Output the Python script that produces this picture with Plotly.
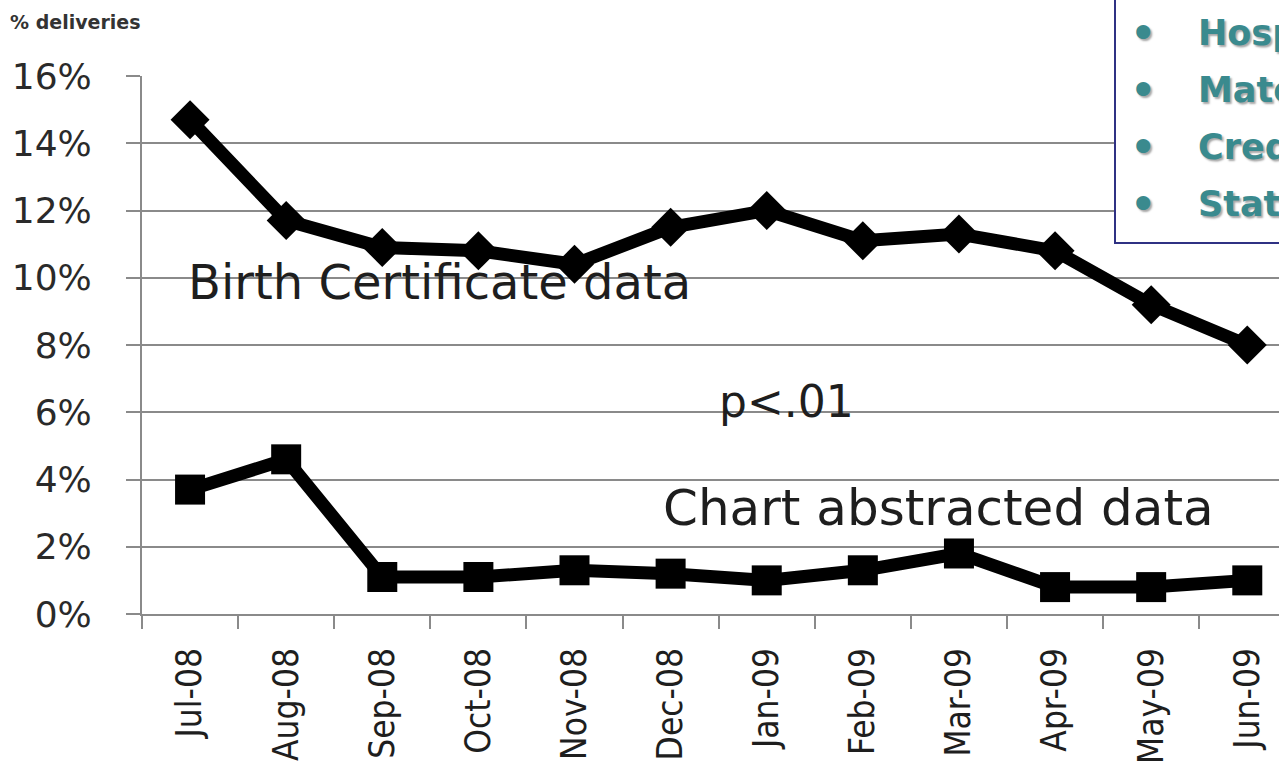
import plotly.graph_objects as go

# Monthly share of deliveries, two data sources
months = ["Jul-08", "Aug-08", "Sep-08", "Oct-08", "Nov-08", "Dec-08",
          "Jan-09", "Feb-09", "Mar-09", "Apr-09", "May-09", "Jun-09"]
birth_certificate = [14.7, 11.7, 10.9, 10.8, 10.4, 11.5,
                     12.0, 11.1, 11.3, 10.8, 9.2, 8.0]
chart_abstracted = [3.7, 4.6, 1.1, 1.1, 1.3, 1.2,
                    1.0, 1.3, 1.8, 0.8, 0.8, 1.0]
y_ticks = [0, 2, 4, 6, 8, 10, 12, 14, 16]
box_items = ["Hospitals", "Maternal", "Credentialing", "State"]

W, H = 1279, 768
L, R, T, B = 142, 0, 76, 154
plot_w, plot_h = W - L - R, H - T - B


def px_x(px):
    return (px - L) / plot_w


def px_y(py):
    return (H - B - py) / plot_h


GRID = "#8a8a8a"
TXT = "#1e1e1e"
TEAL = "#3a8a8e"

fig = go.Figure()
fig.add_trace(go.Scatter(
    x=months, y=birth_certificate, mode="lines+markers",
    line=dict(color="black", width=13),
    marker=dict(symbol="diamond", size=30, color="black"),
    cliponaxis=False, showlegend=False,
))
fig.add_trace(go.Scatter(
    x=months, y=chart_abstracted, mode="lines+markers",
    line=dict(color="black", width=13),
    marker=dict(symbol="square", size=30, color="black"),
    cliponaxis=False, showlegend=False,
))

fig.update_xaxes(
    type="category", range=[-0.5, 11.33], automargin=False,
    showgrid=False, showline=True, linecolor=GRID, linewidth=2,
    ticks="outside", tickson="boundaries", ticklen=13, tickwidth=2,
    tickcolor=GRID, tickangle=-90, ticklabelstandoff=18,
    tickfont=dict(family="DejaVu Sans Condensed, DejaVu Sans", size=35, color=TXT),
)
fig.update_yaxes(
    range=[0, 16], tickvals=y_ticks, ticktext=[f"{v}%" for v in y_ticks],
    automargin=False,
    showgrid=True, gridcolor=GRID, gridwidth=2, zeroline=False,
    showline=True, linecolor=GRID, linewidth=2,
    ticks="outside", ticklen=14, tickwidth=2, tickcolor=GRID,
    ticklabelstandoff=27,
    tickfont=dict(family="DejaVu Sans", size=36, color="#2a2a2a"),
)

annotations = [
    dict(text="% deliveries", x=px_x(8), y=px_y(22), xanchor="left", yanchor="middle",
         font=dict(family="DejaVu Sans", size=19, color="#333333", weight="bold")),
    dict(text="Birth Certificate data", x=px_x(186), y=px_y(282), xanchor="left", yanchor="middle",
         font=dict(family="DejaVu Sans", size=48, color=TXT)),
    dict(text="p<.01", x=px_x(786), y=px_y(401), xanchor="center", yanchor="middle",
         font=dict(family="DejaVu Sans", size=44, color=TXT)),
    dict(text="Chart abstracted data", x=px_x(938), y=px_y(508), xanchor="center", yanchor="middle",
         font=dict(family="DejaVu Sans", size=50, color=TXT)),
]
for i, item in enumerate(box_items):
    cy = 33 + i * 57
    annotations.append(dict(
        text="•", x=px_x(1143), y=px_y(cy), xanchor="center", yanchor="middle",
        font=dict(family="DejaVu Sans", size=48, color=TEAL,
                  shadow="2px 2px 2px rgba(0,0,0,0.35)")))
    annotations.append(dict(
        text=item, x=px_x(1196), y=px_y(cy), xanchor="left", yanchor="middle",
        font=dict(family="DejaVu Sans", size=35, color=TEAL, weight="bold",
                  shadow="2px 2px 2px rgba(0,0,0,0.35)")))
for a in annotations:
    a.update(xref="paper", yref="paper", showarrow=False)

fig.update_layout(
    width=W, height=H, margin=dict(l=L, r=R, t=T, b=B),
    plot_bgcolor="white", paper_bgcolor="white",
    annotations=annotations,
    shapes=[dict(type="rect", xref="paper", yref="paper",
                 x0=px_x(1115), x1=px_x(1300), y0=px_y(243), y1=px_y(-5),
                 line=dict(color="#2f3183", width=2), fillcolor="white",
                 layer="above")],
)

fig.write_html("out.html")
